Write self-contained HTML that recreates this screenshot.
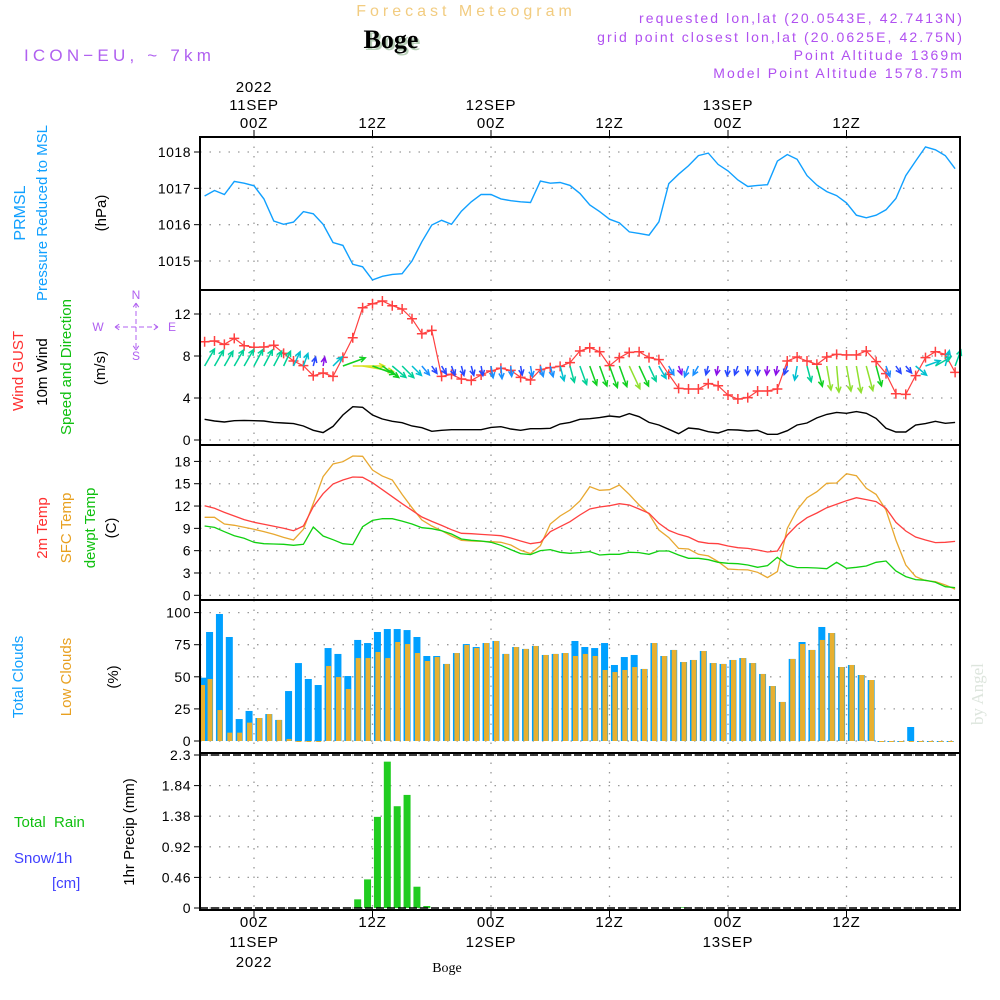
<!DOCTYPE html>
<html><head><meta charset="utf-8"><style>
html,body{margin:0;padding:0;background:#fff;}
svg{display:block;font-family:"Liberation Sans",sans-serif;}
</style></head><body>
<svg id="chart" width="1000" height="1000" viewBox="0 0 1000 1000" xmlns="http://www.w3.org/2000/svg">
<rect x="0" y="0" width="1000" height="1000" fill="#fff"/>
<text x="466" y="16" font-size="16" fill="#f2cc80" text-anchor="middle" letter-spacing="4">Forecast Meteogram</text>
<text x="393" y="50" font-size="26" font-weight="bold" font-family="Liberation Serif,serif" fill="#b8d0b8" text-anchor="middle">Boge</text>
<text x="391" y="48" font-size="26" font-weight="bold" font-family="Liberation Serif,serif" fill="#000" text-anchor="middle">Boge</text>
<text x="24" y="61" font-size="17" fill="#b060f0" letter-spacing="4.2">ICON−EU, ~ 7km</text>
<g font-size="14" fill="#b050f0" text-anchor="end" letter-spacing="2.1">
<text x="964" y="23">requested lon,lat (20.0543E, 42.7413N)</text>
<text x="964" y="42">grid point closest lon,lat (20.0625E, 42.75N)</text>
<text x="964" y="60">Point Altitude 1369m</text>
<text x="964" y="78">Model Point Altitude 1578.75m</text>
</g>
<text transform="translate(983,725) rotate(-90)" font-size="17" font-family="Liberation Serif,serif" fill="#dde5dd">by Angel</text>

<g font-size="15">
<text transform="translate(25,213) rotate(-90)" fill="#10a0ff" text-anchor="middle" font-size="16">PRMSL</text>
<text transform="translate(47,213) rotate(-90)" fill="#10a0ff" text-anchor="middle">Pressure Reduced to MSL</text>
<text transform="translate(106,213) rotate(-90)" fill="#000" text-anchor="middle">(hPa)</text>
<text transform="translate(23,371) rotate(-90)" fill="#ff3030" text-anchor="middle">Wind GUST</text>
<text transform="translate(47,372) rotate(-90)" fill="#000" text-anchor="middle">10m Wind</text>
<text transform="translate(71,367) rotate(-90)" fill="#10c010" text-anchor="middle">Speed and Direction</text>
<text transform="translate(105,368) rotate(-90)" fill="#000" text-anchor="middle">(m/s)</text>
<text transform="translate(47,528) rotate(-90)" fill="#ff3030" text-anchor="middle">2m Temp</text>
<text transform="translate(71,528) rotate(-90)" fill="#e8a020" text-anchor="middle">SFC Temp</text>
<text transform="translate(95,528) rotate(-90)" fill="#10c010" text-anchor="middle">dewpt Temp</text>
<text transform="translate(116,528) rotate(-90)" fill="#000" text-anchor="middle">(C)</text>
<text transform="translate(23,677) rotate(-90)" fill="#10a0ff" text-anchor="middle">Total Clouds</text>
<text transform="translate(71,677) rotate(-90)" fill="#e8a020" text-anchor="middle">Low Clouds</text>
<text transform="translate(118,677) rotate(-90)" fill="#000" text-anchor="middle">(%)</text>
<text x="14" y="827" fill="#10c010" xml:space="preserve">Total  Rain</text>
<text x="14" y="863" fill="#4040ff">Snow/1h</text>
<text x="52" y="888" fill="#4040ff">[cm]</text>
<text transform="translate(134,832) rotate(-90)" fill="#000" text-anchor="middle">1hr Precip (mm)</text>
</g>
<g fill="#b060f0" font-size="12" text-anchor="middle">
<text x="136" y="299">N</text>
<text x="98" y="331">W</text><text x="172" y="331">E</text>
<text x="136" y="360">S</text>
<path d="M115,327H158M115,327l6,-4M115,327l6,4M158,327l-6,-4M158,327l-6,4M136,303V350M136,303l-4,6M136,303l4,6M136,350l-4,-6M136,350l4,-6" stroke="#b060f0" stroke-width="1" fill="none" stroke-dasharray="5,3"/>
</g>
<g id="grid"></g>
<g id="marks"></g>
<g id="frames"></g>
<g id="axes"></g>
</svg>
<script>
// hourly series, hours -5 .. 71
const hoursStart = -5;
const pressure = [1016.79,1016.94,1016.83,1017.19,1017.14,1017.07,1016.71,1016.10,1016.01,1016.07,1016.36,1016.30,1016.01,1015.51,1015.43,1014.91,1014.84,1014.48,1014.58,1014.63,1014.65,1015.00,1015.53,1015.99,1016.12,1016.01,1016.37,1016.63,1016.83,1016.83,1016.71,1016.66,1016.63,1016.61,1017.20,1017.14,1017.16,1017.08,1016.86,1016.54,
1016.36,1016.15,1016.05,1015.80,1015.76,1015.71,1016.08,1017.13,1017.39,1017.62,1017.90,1017.97,1017.66,1017.48,1017.23,1017.05,1017.08,1017.10,1017.75,1017.93,1017.80,1017.35,1017.09,1016.91,1016.80,1016.60,1016.26,1016.19,1016.26,1016.41,1016.72,1017.35,1017.75,1018.14,1018.06,1017.90,1017.54];
const gust = [9.36,9.43,9.11,9.68,8.98,8.83,8.86,9.02,8.25,7.52,7.08,6.12,6.38,6.06,7.87,9.74,12.6,12.98,13.24,12.79,12.48,11.55,10.12,10.44,6.06,6.25,5.81,5.68,6.19,6.57,6.83,6.63,5.97,5.71,6.70,6.89,7.01,7.37,8.48,8.79,
8.41,7.08,7.84,8.35,8.41,7.84,7.65,6.25,4.92,4.86,4.86,5.37,5.17,4.29,3.90,4.03,4.67,4.67,4.86,7.52,7.90,7.52,7.21,7.90,8.16,8.10,8.10,8.48,7.46,6.32,4.41,4.35,6.13,7.84,8.41,8.16,6.44];
const wind10 = [1.97,1.81,1.71,1.84,1.87,1.84,1.81,1.68,1.62,1.56,1.33,0.92,0.70,1.30,2.38,3.17,3.11,2.38,2.0,1.78,1.65,1.33,1.17,0.83,0.92,0.98,0.98,0.98,0.98,1.2,1.27,1.05,0.92,1.08,1.08,1.11,1.52,1.68,1.97,2.03,
2.13,2.29,2.19,2.51,2.22,1.68,1.43,1.02,0.60,1.14,1.05,0.79,0.67,0.98,0.95,0.86,0.92,0.54,0.54,0.89,1.43,1.62,2.10,2.44,2.63,2.54,2.70,2.54,2.06,1.11,0.76,0.76,1.43,1.56,1.78,1.59,1.68];
const windDir = [30,30,30,30,30,28,28,28,25,25,20,15,10,45,70,90,100,110,125,130,135,135,140,145,150,160,165,165,170,170,175,175,170,170,165,165,165,165,160,160,160,160,160,155,155,155,150,150,160,200,210,195,190,185,200,180,180,185,190,200,190,165,165,170,175,170,170,165,165,160,145,140,130,70,60,15,20];
const temp2m = [12.05,11.69,11.15,10.66,10.17,9.81,9.54,9.27,9.00,8.69,9.31,11.91,13.66,14.96,15.50,15.90,15.86,15.14,14.20,13.26,12.32,11.42,10.52,9.94,9.40,8.82,8.33,8.28,8.19,8.10,8.01,7.70,7.30,6.94,7.12,8.55,9.22,9.90,10.80,11.60,
11.87,12.05,12.32,12.14,11.60,11.02,9.68,8.73,8.20,7.84,7.21,6.99,6.94,6.63,6.40,6.31,6.09,5.82,5.95,8.10,9.45,10.43,11.06,11.78,12.23,12.72,13.12,12.86,12.59,11.69,9.81,8.64,7.84,7.44,7.08,7.12,7.25];
const tempSfc = [10.48,10.48,9.59,9.41,9.14,8.87,8.56,8.20,7.79,7.44,8.87,12.36,15.95,17.65,17.96,18.72,18.68,16.84,16.03,15.50,13.57,11.78,10.12,9.32,8.69,7.97,7.39,7.30,7.25,7.21,7.12,6.76,6.05,5.60,6.67,9.59,10.66,11.47,12.68,14.60,
14.11,14.20,14.83,13.57,12.14,10.93,8.78,7.75,6.31,6.22,5.51,5.29,4.53,3.54,3.45,3.41,3.09,2.38,3.18,9.00,11.47,13.12,13.93,15.05,15.10,16.35,16.08,14.38,13.57,11.47,7.44,4.07,2.51,1.97,1.84,1.39,0.84];
const dewpt = [9.31,9.13,8.55,8.01,7.66,7.12,6.94,6.90,6.85,6.72,6.85,9.18,7.97,7.48,6.94,6.81,9.22,10.07,10.30,10.30,9.98,9.58,9.09,8.95,8.69,8.24,7.57,7.39,7.30,7.12,6.72,6.14,5.60,5.47,6.01,6.14,5.78,5.65,5.74,5.87,
5.42,5.51,5.51,5.78,5.74,5.51,5.95,5.95,5.42,4.97,4.97,4.79,4.43,4.30,4.25,4.07,3.76,3.99,5.11,4.07,3.72,3.72,3.67,3.58,4.43,3.63,3.76,3.94,4.43,4.61,3.27,2.51,2.11,2.02,1.75,1.16,1.03];
// hourly accumulation bars, centred at hours -5.5 .. 70.5
const barStart = -5.5;
const totalClouds = [49.3,84.9,98.9,81.0,17.1,23.4,17.9,21.0,16.4,38.9,60.7,48.3,43.6,72.4,67.8,50.6,78.7,76.3,84.9,87.2,87.2,86.4,81.0,66.2,66.2,60.0,68.5,75.5,73.2,76.3,77.9,67.8,73.2,71.7,74.0,67.0,67.8,68.5,77.9,73.2,
72.4,76.3,59.2,65.4,67.0,56.1,76.3,66.2,70.9,61.5,63.1,70.1,60.7,60.0,63.1,64.6,60.7,52.2,42.8,30.4,63.9,77.1,70.9,88.8,84.1,57.6,59.2,51.4,47.5,0,0,0,10.9,0,0,0,0];
const lowClouds = [43.6,48.3,24.1,6.5,6.5,14.3,17.9,21.0,16.4,1.6,0,0,0,58.4,49.8,40.5,64.6,64.6,69.3,64.6,77.1,75.5,68.5,62.3,65.4,60.0,68.5,74.8,72.4,76.3,77.9,67.8,73.2,71.7,74.0,67.0,67.8,68.5,66.2,67.8,
66.2,55.3,53.7,55.3,57.6,56.1,76.3,66.2,70.9,61.5,63.1,70.1,60.7,60.0,63.1,64.6,60.7,52.2,42.8,30.4,63.9,75.5,70.9,78.7,84.1,57.6,59.2,51.4,47.5,0,0,0,0,0,0,0,0];
const precip = [0,0,0,0,0,0,0,0,0,0,0,0,0,0,0,0,0.13,0.43,1.37,2.2,1.53,1.70,0.32,0.03,0,0,0,0,0,0,0,0,0,0,0,0,0,0,0,0,0,0,0,0,0,0,0,0,0,0.01,0,0,0,0,0,0,0,0,0,0,0,0,0,0,0,0,0,0,0,0,0,0,0,0,0,0,0];
const pressTicks = [1015,1016,1017,1018];
const windTicks = [0,4,8,12];
const tempTicks = [0,3,6,9,12,15,18];
const cloudTicks = [0,25,50,75,100];
const precipTicks = [0,0.46,0.92,1.38,1.84,2.3];
const majorHours = [0,12,24,36,48,60];
const topLabels = [["2022","11SEP","00Z"],["","","12Z"],["","12SEP","00Z"],["","","12Z"],["","13SEP","00Z"],["","","12Z"]];
const botLabels = [["00Z","11SEP","2022"],["12Z","",""],["00Z","12SEP",""],["12Z","",""],["00Z","13SEP",""],["12Z","",""]];

const NS="http://www.w3.org/2000/svg";
const X0=200,X1=960;
function xh(h){return 254+h*9.875;}
function lin(d0,d1,r0,r1){return v=>r0+(v-d0)*(r1-r0)/(d1-d0);}
const yP=lin(1015,1018,261,152), yW=lin(0,12,440,314), yT=lin(0,18,595.3,461.4), yC=lin(0,100,741,612.6), yR=lin(0,2.3,908,755);
const panels=[[137,290],[290,445],[445,600],[600,753],[753,910]];
function mk(tag,attrs,parent){const e=document.createElementNS(NS,tag);for(const k in attrs)e.setAttribute(k,attrs[k]);parent.appendChild(e);return e;}
const grid=document.getElementById('grid'),marks=document.getElementById('marks'),frames=document.getElementById('frames'),axes=document.getElementById('axes');

majorHours.forEach(h=>{
  panels.forEach(p=>{
    const l=mk('line',{x1:xh(h),x2:xh(h),y1:p[0],y2:p[1],stroke:'#999','stroke-width':1.3,'stroke-dasharray':'1.5,8'},grid);
    
    
  });
});
function yaxis(ticks,fy,fmt,name){
  ticks.forEach(t=>{
    const y=fy(t);
    const g=mk('line',{x1:X0,x2:X1,y1:y,y2:y,stroke:'#999','stroke-width':1.3,'stroke-dasharray':'1.5,8'},grid);
    
    
    mk('line',{x1:X0-6,x2:X0,y1:y,y2:y,stroke:'#000','stroke-width':1},axes);
    const tx=mk('text',{x:X0-9,y:y+5,'font-size':14,'text-anchor':'end',fill:'#000','letter-spacing':0.5},axes);
    tx.textContent=fmt(t);
    
    
  });
}
yaxis(pressTicks,yP,t=>t,'pressure');
yaxis(windTicks,yW,t=>t,'wind');
yaxis(tempTicks,yT,t=>t,'temp');
yaxis(cloudTicks,yC,t=>t,'cloud');
yaxis(precipTicks,yR,t=>t,'precip');

majorHours.forEach((h,i)=>{
  const x=xh(h);
  mk('line',{x1:x,x2:x,y1:130,y2:137,stroke:'#000'},axes);
  mk('line',{x1:x,x2:x,y1:910,y2:917,stroke:'#000'},axes);
  topLabels[i].forEach((s,j)=>{ if(!s)return;
    const t=mk('text',{x:x,y:[92,110,128][j],'font-size':15,'text-anchor':'middle',fill:'#000','letter-spacing':0.8},axes);
    t.textContent=s;
    
    
  });
  botLabels[i].forEach((s,j)=>{ if(!s)return;
    const t=mk('text',{x:x,y:[927,947,967][j],'font-size':15,'text-anchor':'middle',fill:'#000','letter-spacing':0.8},axes);
    t.textContent=s;
    
    
  });
});
const bl=mk('text',{x:447,y:972,'font-size':14,'text-anchor':'middle','font-family':'Liberation Serif,serif',fill:'#000'},axes);
bl.textContent='Boge';



function line(arr,fy,color,name,w){
  const pts=arr.map((v,i)=>xh(hoursStart+i).toFixed(1)+','+fy(v).toFixed(1)).join(' ');
  const p=mk('polyline',{points:pts,fill:'none',stroke:color,'stroke-width':w||1.3},marks);
  
  
}
totalClouds.forEach((v,i)=>{
  const x=xh(barStart+i);
  if(x>X1)return;
  const y=yC(v);
  const r=mk('rect',{x:Math.max(X0,x-3.5),y:y,width:7,height:Math.max(1,741-y),fill:'#00a0ff'},marks);
  
  
});
lowClouds.forEach((v,i)=>{
  const x=xh(barStart+i);
  if(x>X1)return;
  const y=yC(v);
  const r=mk('rect',{x:Math.max(X0,x-2),y:y,width:5,height:Math.max(1,741-y),fill:'#e8b030'},marks);
  
  
});
precip.forEach((v,i)=>{
  if(v<=0)return;
  const x=xh(barStart+i), y=yR(v);
  const r=mk('rect',{x:x-3.5,y:y,width:7,height:908-y,fill:'#20cc20'},marks);
  
  
});
mk('line',{x1:X0,x2:X1,y1:908,y2:908,stroke:'#000','stroke-width':1.5,'stroke-dasharray':'8,3'},marks);
mk('line',{x1:X0,x2:X1,y1:755,y2:755,stroke:'#000','stroke-width':1.5,'stroke-dasharray':'8,3'},marks);

line(pressure,yP,'#10a0ff','pressure-line',1.4);
line(wind10,yW,'#000','wind10m-line',1.4);
line(gust,yW,'#ff4040','gust-line',1.2);
gust.forEach((v,i)=>{
  const x=xh(hoursStart+i),y=yW(v);
  const p=mk('path',{d:`M${x-5},${y}h10M${x},${y-5}v10`,stroke:'#ff4040','stroke-width':1.5},marks);
  
  
});
function spdColor(s){
  if(s<0.75)return '#8a10e8'; if(s<1.0)return '#2848ff'; if(s<1.3)return '#1a90ff';
  if(s<1.6)return '#00c0d0'; if(s<2.0)return '#00d098'; if(s<2.4)return '#10d020';
  if(s<2.8)return '#90e030'; return '#d8e020';
}
windDir.forEach((d,i)=>{
  const s=wind10[i], x=xh(hoursStart+i), y=366;
  const L=Math.max(9,s*10), a=d*Math.PI/180;
  const x2=x+L*Math.sin(a), y2=y-L*Math.cos(a);
  const hl=6, ha=0.45;
  const b1x=x2-hl*Math.sin(a-ha), b1y=y2+hl*Math.cos(a-ha);
  const b2x=x2-hl*Math.sin(a+ha), b2y=y2+hl*Math.cos(a+ha);
  const p=mk('path',{d:`M${x},${y}L${x2},${y2}M${b1x},${b1y}L${x2},${y2}L${b2x},${b2y}`,stroke:spdColor(s),'stroke-width':1.5,fill:'none'},marks);
  
  
});
line(tempSfc,yT,'#e8a830','sfc-temp-line',1.3);
line(temp2m,yT,'#ff4040','temp-2m-line',1.3);
line(dewpt,yT,'#10d010','dewpoint-line',1.3);

panels.forEach((p,i)=>{
  const r=mk('rect',{x:X0,y:p[0],width:X1-X0,height:p[1]-p[0],fill:'none',stroke:'#000','stroke-width':2},frames);
  
  
});
</script>
</body></html>
